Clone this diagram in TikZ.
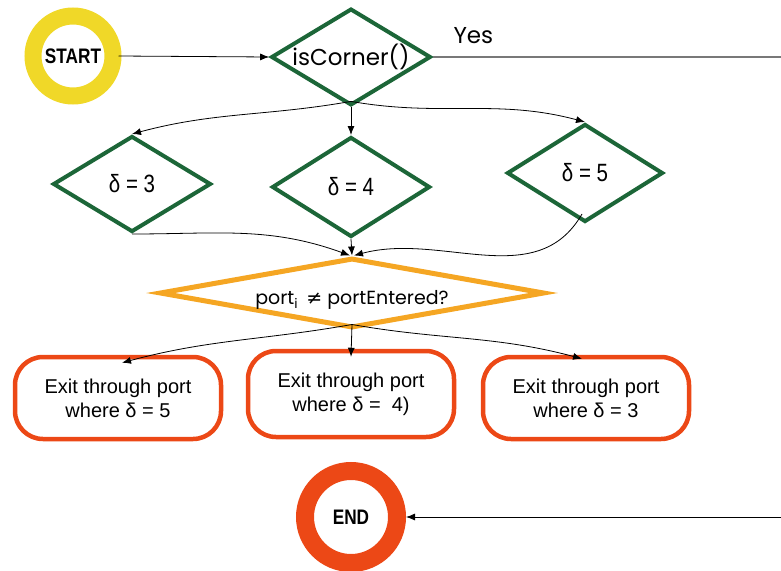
\documentclass[tikz,border=0pt]{standalone}
\usepackage{fontspec}
\setmainfont{Poppins}
\newfontfamily\narrowfont[FakeStretch=0.82]{Liberation Sans}
\newfontfamily\boxfont{Liberation Sans}
\newfontfamily\symfont{DejaVu Sans}
\usetikzlibrary{shapes.geometric,arrows.meta}

\definecolor{ringyellow}{RGB}{240,216,40}
\definecolor{decgreen}{RGB}{28,102,56}
\definecolor{condorange}{RGB}{245,166,35}
\definecolor{exitred}{RGB}{236,72,22}
\definecolor{yesgrey}{RGB}{120,120,120}

\tikzset{
  x=1pt, y=-1pt,
  ring/.style={circle, inner sep=0pt, font=\narrowfont\bfseries\fontsize{21}{24}\selectfont},
  decision/.style={diamond, aspect=1.65, draw=decgreen, line width=4pt, inner sep=0pt,
    font=\narrowfont\fontsize{25}{28}\selectfont},
  exitbox/.style={rectangle, rounded corners=28pt, draw=exitred, line width=4.5pt,
    minimum width=206pt, align=center,
    font=\boxfont\fontsize{20}{24}\selectfont},
  flow/.style={draw=black, line width=0.8pt, -{Latex[length=9pt,width=7pt]}},
}

\begin{document}
\begin{tikzpicture}
\useasboundingbox (0,0) rectangle (781,570);

% terminals
\node[ring, draw=ringyellow, line width=17pt, minimum size=80pt] (start) at (73,56) {START};
\node[ring, draw=exitred, line width=18pt, minimum size=92pt] (end) at (351,517) {END};

% first decision and its three branches
\node[decision, minimum width=158pt, minimum height=96pt, font=\fontsize{23}{26}\selectfont]
  (corner) at (351,57) {isCorner()};
\node[decision, minimum width=158pt, minimum height=96pt] (d3) at (132,184) {δ = 3};
\node[decision, minimum width=158pt, minimum height=100pt] (d4) at (351,187) {δ = 4};
\node[decision, minimum width=156pt, minimum height=98pt] (d5) at (585,173) {δ = 5};

% port condition (text sits a little below the diamond's centre)
\node[diamond, aspect=5.5, draw=condorange, line width=5pt, inner sep=0pt,
  minimum width=385pt, minimum height=70pt, font=\fontsize{19}{22}\selectfont]
  (cond) at (352,293) {\raisebox{-11pt}[0pt][0pt]{port\textsubscript{i} \,{\symfont ≠} portEntered?}};

% exits
\node[exitbox, minimum height=82pt] (b1) at (118,398) {Exit through port\\where δ = 5};
\node[exitbox, minimum height=86pt] (b2) at (351,394) {Exit through port\\where δ =\ \ 4)};
\node[exitbox, minimum height=82pt] (b3) at (586,398) {Exit through port\\where δ = 3};

% loose ends leaving the right border
\coordinate (yesend) at (781,57);
\coordinate (endin) at (781,517);

% connectors
\draw[flow] (start.east) ++(-3,0) -- (corner.west);
\draw[yesgrey, line width=1.2pt] (corner.east) -- (yesend);
\node[font=\fontsize{23}{26}\selectfont, anchor=base west] (yes) at (450,43) {Yes};

\draw[flow] (corner.south) ++(0,-6) to[out=190,in=15] (d3.north);
\draw[flow] (corner.south) -- (d4.north);
\draw[flow] (corner.south) ++(0,-6) to[out=-10,in=165] (d5.north);

\draw[flow] (d3.south) to[out=0,in=160] ([xshift=-2pt]cond.north);
\draw[flow] (d4.south) -- (cond.north);
\draw[flow] ([shift={(-3,-10)}]d5.south) to[out=-120,in=15] ([xshift=2pt]cond.north);

\draw[flow] (cond.south) ++(0,-6) to[out=190,in=15] ([shift={(4pt,-8pt)}]b1.north);
\draw[flow] (cond.south) ++(0,-6) -- ([yshift=-8pt]b2.north);
\draw[flow] (cond.south) ++(0,-6) to[out=-10,in=165] ([shift={(-4pt,-4pt)}]b3.north);

\draw[flow] (endin) -- (end.east);
\end{tikzpicture}
\end{document}
